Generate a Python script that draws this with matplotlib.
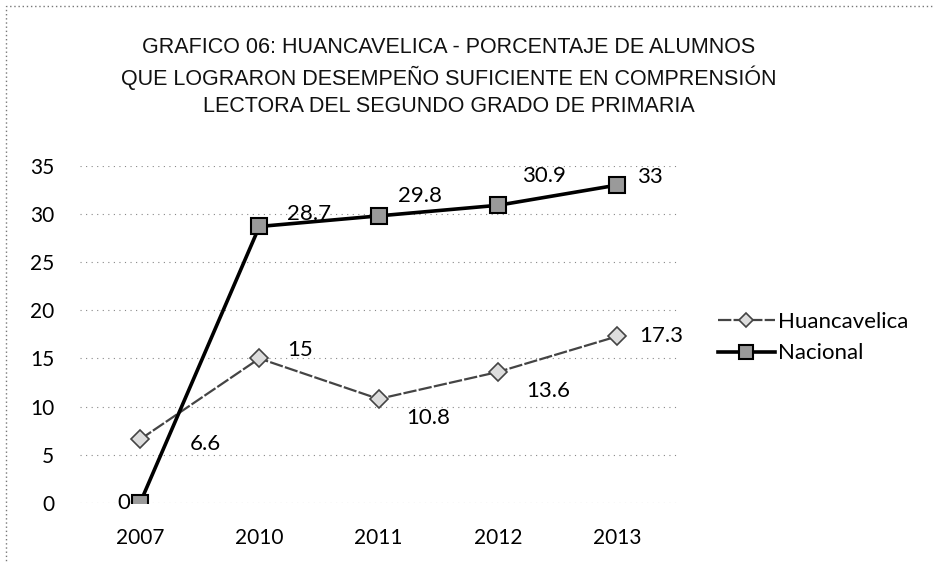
import matplotlib
matplotlib.use("Agg")
from matplotlib import pyplot as plt
from matplotlib.patches import Rectangle

plt.rcParams['font.family'] = ['Lato', 'DejaVu Sans']

years = ['2007', '2010', '2011', '2012', '2013']
huancavelica = [6.6, 15, 10.8, 13.6, 17.3]
nacional = [0, 28.7, 29.8, 30.9, 33]
yticks = [0, 5, 10, 15, 20, 25, 30, 35]

title = ('GRAFICO 06: HUANCAVELICA - PORCENTAJE DE ALUMNOS\n'
         'QUE LOGRARON DESEMPEÑO SUFICIENTE EN COMPRENSIÓN\n'
         'LECTORA DEL SEGUNDO GRADO DE PRIMARIA')

fig = plt.figure(figsize=(9.35, 5.62), dpi=100)
ax = fig.add_axes([0.086, 0.105, 0.638, 0.6])

x = range(len(years))
ax.plot(x, huancavelica, color='#444444', lw=1.6, ls=(0, (6, 1)),
        marker='D', ms=9, mfc='#dddddd', mec='#444444', mew=1.2,
        label='Huancavelica')
ax.plot(x, nacional, color='black', lw=2.6,
        marker='s', ms=12, mfc='#9a9a9a', mec='black', mew=1.5,
        label='Nacional')

# data labels (offsets in points)
h_off = [(36, -3), (20, 6), (20, -14), (20, -14), (16, 0)]
n_off = [(-7, 0), (20, 9), (14, 14), (17, 21), (14, 6)]
for i, v in enumerate(huancavelica):
    dx, dy = h_off[i]
    ax.annotate('%g' % v, (i, v), xytext=(dx, dy), textcoords='offset points',
                ha='left' if dx > 0 else 'right', va='center', fontsize=16)
for i, v in enumerate(nacional):
    dx, dy = n_off[i]
    ax.annotate('%g' % v, (i, v), xytext=(dx, dy), textcoords='offset points',
                ha='left' if dx > 0 else 'right', va='center', fontsize=16)

ax.set_xlim(-0.5, len(years) - 0.5)
ax.set_ylim(0, 35)
ax.set_xticks(list(x))
ax.set_xticklabels(years)
ax.set_yticks(yticks)
ax.tick_params(length=0, labelsize=15, pad=18)
ax.tick_params(axis='y', pad=19)
ax.yaxis.grid(True, color='#888888', ls=(0, (1, 4)), lw=0.8)
for s in ax.spines.values():
    s.set_visible(False)

fig.legend(loc='center left', bbox_to_anchor=(0.746, 0.399), frameon=False,
           fontsize=16, handlelength=2.6, handletextpad=0.1, labelspacing=0.5,
           markerscale=0.8)

fig.text(0.48, 0.935, title, ha='center', va='top', fontsize=15.5,
         family=['Liberation Sans Narrow', 'Liberation Sans', 'DejaVu Sans'],
         linespacing=1.4, color='#111111')

fig.patches.append(Rectangle((0.006, -0.02), 1.2, 1.01, transform=fig.transFigure,
                             fill=False, ec='#777777', lw=1, ls=(0, (1, 2))))

plt.savefig('out.png', dpi=100)
